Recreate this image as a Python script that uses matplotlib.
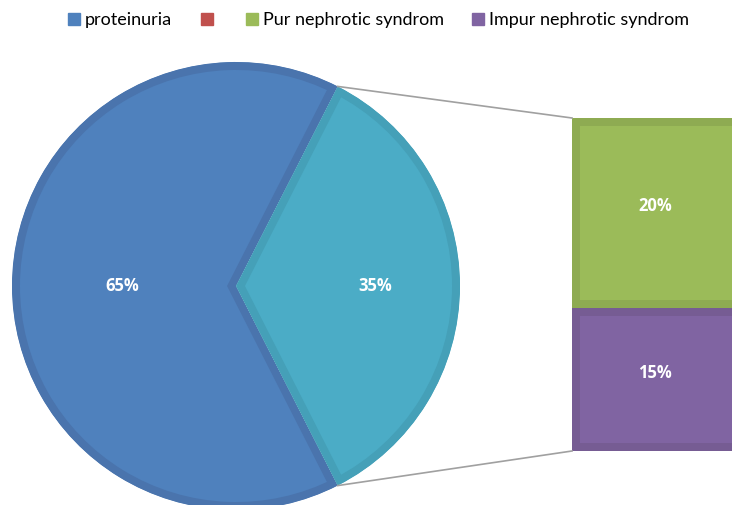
import matplotlib.pyplot as plt
from matplotlib.lines import Line2D
import numpy as np

# pie (primary) and bar (secondary) data
pie_labels = ['proteinuria', 'nephrotic syndrom']
pie_values = [65, 35]
bar_labels = ['Pur nephrotic syndrom', 'Impur nephrotic syndrom']
bar_values = [20, 15]
legend_labels = ['proteinuria', '', 'Pur nephrotic syndrom', 'Impur nephrotic syndrom']

PIE_FILL = ['#4f81bd', '#4bacc6']
PIE_EDGE = ['#4a74ad', '#45a0b8']
BAR_FILL = ['#9bbb59', '#8064a2']
BAR_EDGE = ['#8eab52', '#765c93']
LEGEND_COLORS = ['#4f81bd', '#c0504d', '#9bbb59', '#8064a2']

EDGE_LW = 11.5  # stroke clipped to the patch -> ~8 px band inside

W, H = 732, 505
fig = plt.figure(figsize=(W / 100, H / 100), dpi=100)
ax = fig.add_axes([0, 0, 1, 1])

center = (236, 219)
radius = 224
start = 180 * pie_values[1] / 100  # second slice centred on the right

wedges, texts = ax.pie(pie_values, colors=PIE_FILL, startangle=start, counterclock=True,
                       center=center, radius=radius, frame=True,
                       wedgeprops=dict(edgecolor='none'))
ax.set_xlim(0, W)
ax.set_ylim(0, H)
ax.set_aspect('equal')
ax.axis('off')
for w, ec in zip(wedges, PIE_EDGE):
    w.set_edgecolor(ec)
    w.set_linewidth(EDGE_LW)
    w.set_joinstyle('miter')
    # keep the border inside the slice, like the office chart
    w.set_clip_on(True)
    w.set_clip_path(w)

# percentage labels in the pie
label_r = [0.51, 0.62]
for w, v, r in zip(wedges, pie_values, label_r):
    ang = np.deg2rad((w.theta1 + w.theta2) / 2)
    ax.text(center[0] + r * radius * np.cos(ang), center[1] + r * radius * np.sin(ang),
            '{}%'.format(v), color='white', fontsize=12, fontweight='bold',
            family='Open Sans', ha='center', va='center')

# stacked bar on the right
bar_left = 572
bar_bottom = 54
scale = 333 / sum(bar_values)
bottom = bar_bottom
heights = [v * scale for v in bar_values[::-1]]
for v, h, fc, ec in zip(bar_values[::-1], heights, BAR_FILL[::-1], BAR_EDGE[::-1]):
    bars = ax.bar(bar_left, h, width=200, bottom=bottom, align='edge', color=fc,
                  edgecolor=ec, linewidth=EDGE_LW)
    for b in bars:
        b.set_clip_path(b)
    ax.text(655, bottom + h / 2 + 7, '{}%'.format(v), color='white', fontsize=12,
            fontweight='bold', family='Open Sans', ha='center', va='center')
    bottom += h

# connector lines
a = np.deg2rad(start)
px = center[0] + radius * np.cos(a)
py_top = center[1] + radius * np.sin(a)
py_bot = center[1] - radius * np.sin(a)
ax.plot([px, bar_left], [py_top, bottom], color='#a0a0a0', lw=1.2)
ax.plot([px, bar_left], [py_bot, bar_bottom], color='#a0a0a0', lw=1.2)

handles = [Line2D([], [], marker='s', linestyle='none', markersize=8,
                  markerfacecolor=c, markeredgecolor=c) for c in LEGEND_COLORS]
fig.legend(handles, legend_labels, loc='center', bbox_to_anchor=(0.515, 0.96), ncol=4,
           frameon=False, prop={'family': 'Lato', 'size': 13},
           handletextpad=0.1, columnspacing=1.4, handlelength=1.0)

plt.savefig('out.png', dpi=100)
